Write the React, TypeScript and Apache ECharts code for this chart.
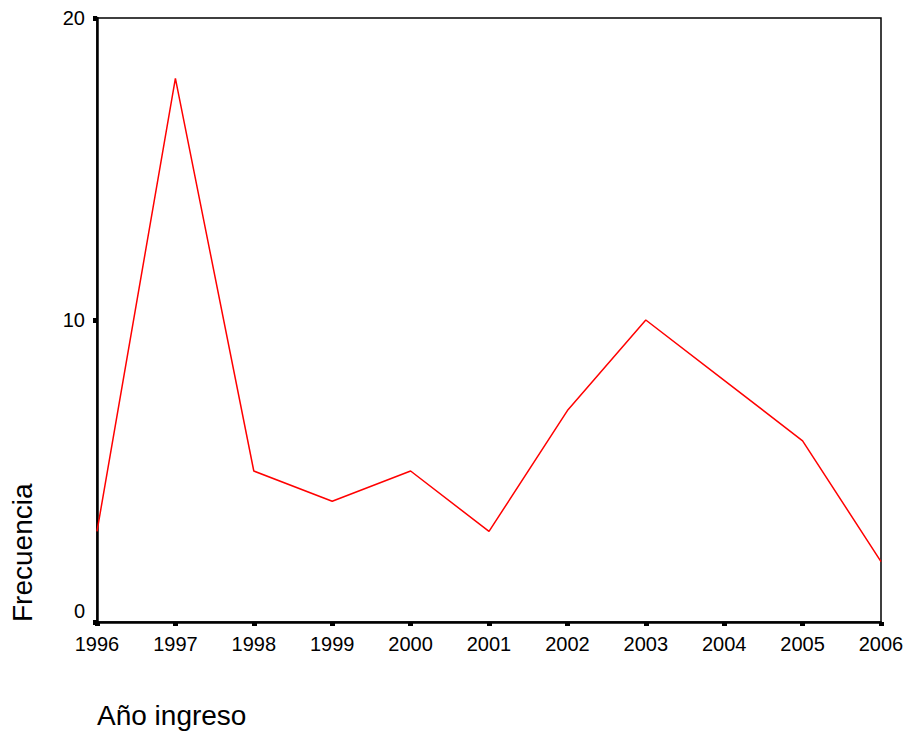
import React, { useEffect, useRef } from "react";
import * as echarts from "echarts";

const years = ["1996", "1997", "1998", "1999", "2000", "2001", "2002", "2003", "2004", "2005", "2006"];
const frecuencia = [3, 18, 5, 4, 5, 3, 7, 10, 8, 6, 2];
const yTitle = "Frecuencia";
const xTitle = "Año ingreso";

export default function App() {
  const ref = useRef<HTMLDivElement>(null);
  useEffect(() => {
    document.body.style.margin = "0";
    const chart = echarts.init(ref.current!, null, { renderer: "svg" });
    const font = "Liberation Sans, Arial, sans-serif";
    chart.setOption({
      animation: false,
      backgroundColor: "#ffffff",
      grid: {
        left: 97,
        right: 26,
        top: 18,
        bottom: 114,
        show: true,
        borderColor: "#000",
        borderWidth: 1.5,
        containLabel: false,
      },
      xAxis: {
        type: "category",
        data: years,
        boundaryGap: false,
        axisLine: { lineStyle: { color: "#000", width: 2.5 } },
        axisTick: { show: true, length: 4, lineStyle: { color: "#000", width: 5 } },
        axisLabel: { color: "#000", fontSize: 20, fontFamily: font, margin: 12, showMinLabel: true, showMaxLabel: true, interval: 0 },
        splitLine: { show: false },
      },
      yAxis: {
        type: "value",
        min: 0,
        max: 20,
        interval: 10,
        axisLine: { show: true, lineStyle: { color: "#000", width: 2.5 } },
        axisTick: { show: true, length: 4, lineStyle: { color: "#000", width: 5 } },
        axisLabel: {
          color: "#000",
          fontSize: 20,
          fontFamily: font,
          margin: 12,
          formatter: (v: number) => (v === 0 ? "{z|0}" : String(v)),
          rich: { z: { fontSize: 20, fontFamily: font, color: "#000", padding: [0, 0, 22, 0] } },
        },
        splitLine: { show: false },
      },
      graphic: [
        {
          type: "text",
          x: 22,
          y: 622,
          rotation: Math.PI / 2,
          style: { text: yTitle, fontSize: 28, fontFamily: font, fill: "#000", textAlign: "left", textVerticalAlign: "middle" },
        },
        {
          type: "text",
          x: 97,
          y: 715,
          style: { text: xTitle, fontSize: 28, fontFamily: font, fill: "#000", textAlign: "left", textVerticalAlign: "middle" },
        },
      ],
      series: [
        {
          type: "line",
          data: frecuencia,
          symbol: "none",
          lineStyle: { color: "#ff0000", width: 1.5 },
          itemStyle: { color: "#ff0000" },
        },
      ],
    });
    return () => chart.dispose();
  }, []);
  return <div ref={ref} style={{ width: 907, height: 736 }} />;
}
